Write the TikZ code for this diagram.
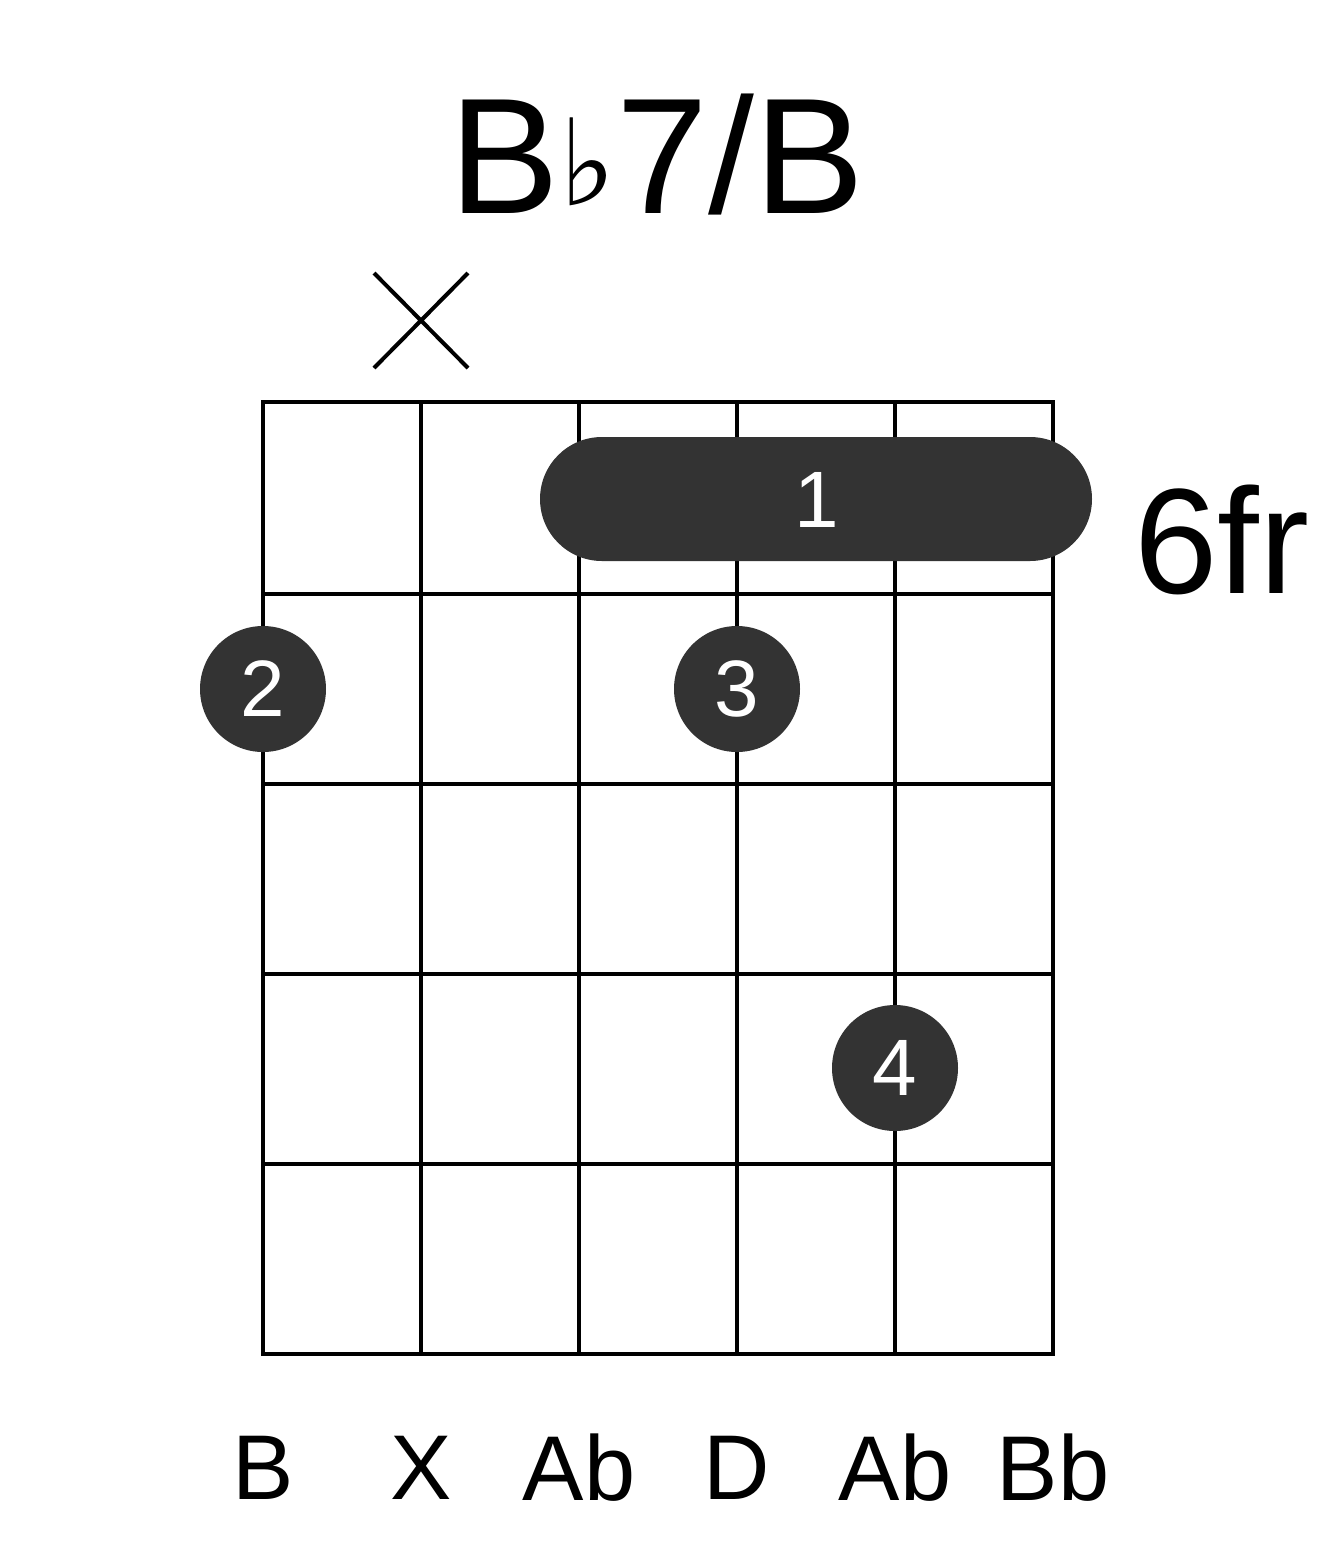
\documentclass[tikz,border=0pt]{standalone}
\usepackage{fontspec}
\setmainfont{Liberation Sans}
\newfontfamily\djv{DejaVu Sans}
\definecolor{dotc}{HTML}{333333}
\begin{document}
\begin{tikzpicture}[x=1pt,y=-1pt,
  grid/.style={line width=4pt,black},
  fdot/.style={circle,fill=dotc,minimum size=126pt,inner sep=0pt,text=white,font=\fontsize{80}{80}\selectfont},
  slabel/.style={font=\fontsize{92}{92}\selectfont}]
\useasboundingbox (0,0) rectangle (1317,1551);
\node (title) at (657,155) {\fontsize{165}{165}\selectfont B{\djv\raisebox{0.05em}{\fontsize{120}{120}\selectfont ♭}}7/B};
\foreach \x in {263,421,579,737,895,1053} \draw[grid] (\x,402) -- (\x,1354);
\foreach \y in {402,594,784,974,1164,1354} \draw[grid] (261,\y) -- (1055,\y);
\draw[line width=4pt] (374,273) -- (468,368) (468,273) -- (374,368);
\node[fill=dotc,rounded corners=62pt,minimum width=552pt,minimum height=124pt,inner sep=0pt] (barre) at (816,499) {};
\node[text=white,font=\fontsize{80}{80}\selectfont] (b1) at (817,500) {1};
\node[fdot] (d2) at (263,689) {2};
\node[fdot] (d3) at (737,689) {3};
\node[fdot] (d4) at (895,1068) {4};
\node[font=\fontsize{150}{150}\selectfont] (fr) at (1222,540) {6fr};
\foreach \x/\t in {263/B,421/X,579/Ab,737/D,895/Ab,1053/Bb}
  \node[slabel] (s\x) at (\x,1468) {\t};
\end{tikzpicture}
\end{document}
